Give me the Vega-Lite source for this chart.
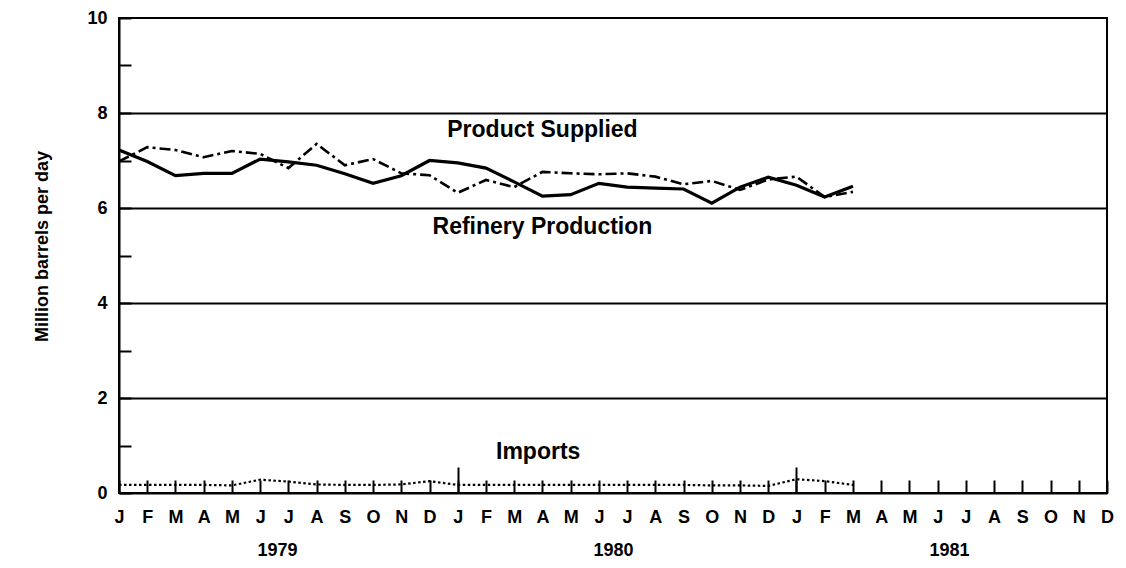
{
  "$schema": "https://vega.github.io/schema/vega-lite/v6.json",
  "autosize": {"type": "none"},
  "padding": {"left": 119, "top": 18, "right": 19, "bottom": 75},
  "width": 988,
  "height": 475,
  "config": {
    "view": {"stroke": "#000", "strokeWidth": 2},
    "font": "Liberation Sans",
    "axis": {"labelFont": "Liberation Sans", "labelFontWeight": "bold", "labelFontSize": 18, "labelColor": "#000", "tickColor": "#000", "domainColor": "#000", "gridColor": "#000", "titleColor": "#000"}
  },
  "datasets": {
    "series": [
      {"m": 0, "series": "Refinery Production", "value": 7.22},
      {"m": 1, "series": "Refinery Production", "value": 6.98},
      {"m": 2, "series": "Refinery Production", "value": 6.68},
      {"m": 3, "series": "Refinery Production", "value": 6.73},
      {"m": 4, "series": "Refinery Production", "value": 6.73},
      {"m": 5, "series": "Refinery Production", "value": 7.03},
      {"m": 6, "series": "Refinery Production", "value": 6.97},
      {"m": 7, "series": "Refinery Production", "value": 6.9},
      {"m": 8, "series": "Refinery Production", "value": 6.72},
      {"m": 9, "series": "Refinery Production", "value": 6.52},
      {"m": 10, "series": "Refinery Production", "value": 6.68},
      {"m": 11, "series": "Refinery Production", "value": 7.0},
      {"m": 12, "series": "Refinery Production", "value": 6.95},
      {"m": 13, "series": "Refinery Production", "value": 6.84},
      {"m": 14, "series": "Refinery Production", "value": 6.55},
      {"m": 15, "series": "Refinery Production", "value": 6.25},
      {"m": 16, "series": "Refinery Production", "value": 6.28},
      {"m": 17, "series": "Refinery Production", "value": 6.52},
      {"m": 18, "series": "Refinery Production", "value": 6.44},
      {"m": 19, "series": "Refinery Production", "value": 6.42},
      {"m": 20, "series": "Refinery Production", "value": 6.4},
      {"m": 21, "series": "Refinery Production", "value": 6.1},
      {"m": 22, "series": "Refinery Production", "value": 6.44},
      {"m": 23, "series": "Refinery Production", "value": 6.65},
      {"m": 24, "series": "Refinery Production", "value": 6.48},
      {"m": 25, "series": "Refinery Production", "value": 6.23},
      {"m": 26, "series": "Refinery Production", "value": 6.46},
      {"m": 0, "series": "Product Supplied", "value": 6.98},
      {"m": 1, "series": "Product Supplied", "value": 7.28},
      {"m": 2, "series": "Product Supplied", "value": 7.22},
      {"m": 3, "series": "Product Supplied", "value": 7.07},
      {"m": 4, "series": "Product Supplied", "value": 7.2},
      {"m": 5, "series": "Product Supplied", "value": 7.14},
      {"m": 6, "series": "Product Supplied", "value": 6.84},
      {"m": 7, "series": "Product Supplied", "value": 7.35},
      {"m": 8, "series": "Product Supplied", "value": 6.9},
      {"m": 9, "series": "Product Supplied", "value": 7.03},
      {"m": 10, "series": "Product Supplied", "value": 6.73},
      {"m": 11, "series": "Product Supplied", "value": 6.69},
      {"m": 12, "series": "Product Supplied", "value": 6.32},
      {"m": 13, "series": "Product Supplied", "value": 6.59},
      {"m": 14, "series": "Product Supplied", "value": 6.44},
      {"m": 15, "series": "Product Supplied", "value": 6.76},
      {"m": 16, "series": "Product Supplied", "value": 6.73},
      {"m": 17, "series": "Product Supplied", "value": 6.71},
      {"m": 18, "series": "Product Supplied", "value": 6.73},
      {"m": 19, "series": "Product Supplied", "value": 6.66},
      {"m": 20, "series": "Product Supplied", "value": 6.5},
      {"m": 21, "series": "Product Supplied", "value": 6.57},
      {"m": 22, "series": "Product Supplied", "value": 6.38},
      {"m": 23, "series": "Product Supplied", "value": 6.6},
      {"m": 24, "series": "Product Supplied", "value": 6.66},
      {"m": 25, "series": "Product Supplied", "value": 6.23},
      {"m": 26, "series": "Product Supplied", "value": 6.34},
      {"m": 0, "series": "Imports", "value": 0.17},
      {"m": 1, "series": "Imports", "value": 0.17},
      {"m": 2, "series": "Imports", "value": 0.17},
      {"m": 3, "series": "Imports", "value": 0.17},
      {"m": 4, "series": "Imports", "value": 0.16},
      {"m": 5, "series": "Imports", "value": 0.28},
      {"m": 6, "series": "Imports", "value": 0.24},
      {"m": 7, "series": "Imports", "value": 0.18},
      {"m": 8, "series": "Imports", "value": 0.17},
      {"m": 9, "series": "Imports", "value": 0.17},
      {"m": 10, "series": "Imports", "value": 0.18},
      {"m": 11, "series": "Imports", "value": 0.25},
      {"m": 12, "series": "Imports", "value": 0.17},
      {"m": 13, "series": "Imports", "value": 0.17},
      {"m": 14, "series": "Imports", "value": 0.17},
      {"m": 15, "series": "Imports", "value": 0.17},
      {"m": 16, "series": "Imports", "value": 0.17},
      {"m": 17, "series": "Imports", "value": 0.17},
      {"m": 18, "series": "Imports", "value": 0.17},
      {"m": 19, "series": "Imports", "value": 0.17},
      {"m": 20, "series": "Imports", "value": 0.17},
      {"m": 21, "series": "Imports", "value": 0.16},
      {"m": 22, "series": "Imports", "value": 0.16},
      {"m": 23, "series": "Imports", "value": 0.15},
      {"m": 24, "series": "Imports", "value": 0.29},
      {"m": 25, "series": "Imports", "value": 0.25},
      {"m": 26, "series": "Imports", "value": 0.17}
    ],
    "labels": [
      {"m": 15.0, "value": 7.64, "label": "Product Supplied"},
      {"m": 15.0, "value": 5.6, "label": "Refinery Production"},
      {"m": 14.85, "value": 0.86, "label": "Imports"}
    ]
  },
  "resolve": {"axis": {"x": "independent", "y": "independent"}},
  "layer": [
    {
      "data": {"name": "series"},
      "transform": [{"filter": "datum.series === 'Product Supplied'"}],
      "mark": {"type": "line", "color": "#000", "strokeWidth": 2.6, "strokeDash": [11, 4, 3, 4]},
      "encoding": {
        "x": {"field": "m", "type": "quantitative", "scale": {"domain": [0, 35], "nice": false, "zero": false},
          "axis": {"orient": "bottom", "values": [12, 24], "labels": false, "domain": false, "grid": false, "tickSize": -26, "tickWidth": 2, "title": null}},
        "y": {"field": "value", "type": "quantitative", "scale": {"domain": [0, 10], "nice": false},
          "axis": {"orient": "left", "values": [2, 4, 6, 8], "labels": false, "ticks": false, "domain": false, "grid": true, "gridWidth": 1.8, "title": null}}
      }
    },
    {
      "data": {"name": "series"},
      "transform": [{"filter": "datum.series === 'Refinery Production'"}],
      "mark": {"type": "line", "color": "#000", "strokeWidth": 3.2},
      "encoding": {
        "x": {"field": "m", "type": "quantitative", "scale": {"domain": [0, 35], "nice": false, "zero": false},
          "axis": {"orient": "bottom", "values": [0,1,2,3,4,5,6,7,8,9,10,11,12,13,14,15,16,17,18,19,20,21,22,23,24,25,26,27,28,29,30,31,32,33,34,35],
            "labelExpr": "['J','F','M','A','M','J','J','A','S','O','N','D'][datum.value % 12]",
            "labelFlush": false, "labelOverlap": false, "labelBound": false,
            "tickSize": -13, "tickWidth": 2, "labelPadding": 28, "domainWidth": 2, "grid": false, "title": null}},
        "y": {"field": "value", "type": "quantitative", "scale": {"domain": [0, 10], "nice": false},
          "axis": {"orient": "left", "values": [0,1,2,3,4,5,6,7,8,9,10],
            "labelExpr": "datum.value % 2 === 0 ? datum.label : ''",
            "labelOverlap": false, "labelFlush": false, "labelBound": false,
            "tickSize": -12, "tickWidth": 2, "labelPadding": 24, "domainWidth": 2, "grid": false,
            "title": "Million barrels per day", "titleFont": "Liberation Sans", "titleFontSize": 18, "titleFontWeight": "bold",
            "titleX": -77, "titleY": 228, "titleAlign": "center", "titleBaseline": "middle", "titleAngle": -90}}
      }
    },
    {
      "data": {"name": "series"},
      "transform": [{"filter": "datum.series === 'Imports'"}],
      "mark": {"type": "line", "color": "#000", "strokeWidth": 2.2, "strokeDash": [2.5, 2.5]},
      "encoding": {
        "x": {"field": "m", "type": "quantitative", "scale": {"domain": [0, 35], "nice": false, "zero": false}, "axis": null},
        "y": {"field": "value", "type": "quantitative", "scale": {"domain": [0, 10], "nice": false}, "axis": null}
      }
    },
    {
      "data": {"name": "labels"},
      "mark": {"type": "text", "font": "Liberation Sans", "fontSize": 23, "fontWeight": "bold", "color": "#000", "align": "center", "baseline": "middle"},
      "encoding": {
        "x": {"field": "m", "type": "quantitative", "scale": {"domain": [0, 35], "nice": false, "zero": false},
          "axis": {"orient": "bottom", "values": [5.6, 17.5, 29.4], "labelExpr": "datum.value < 10 ? '1979' : datum.value < 20 ? '1980' : '1981'",
            "ticks": false, "domain": false, "grid": false, "labelPadding": 48, "labelFlush": false, "labelOverlap": false, "title": null}},
        "y": {"field": "value", "type": "quantitative", "scale": {"domain": [0, 10], "nice": false}, "axis": null},
        "text": {"field": "label", "type": "nominal"}
      }
    }
  ]
}
